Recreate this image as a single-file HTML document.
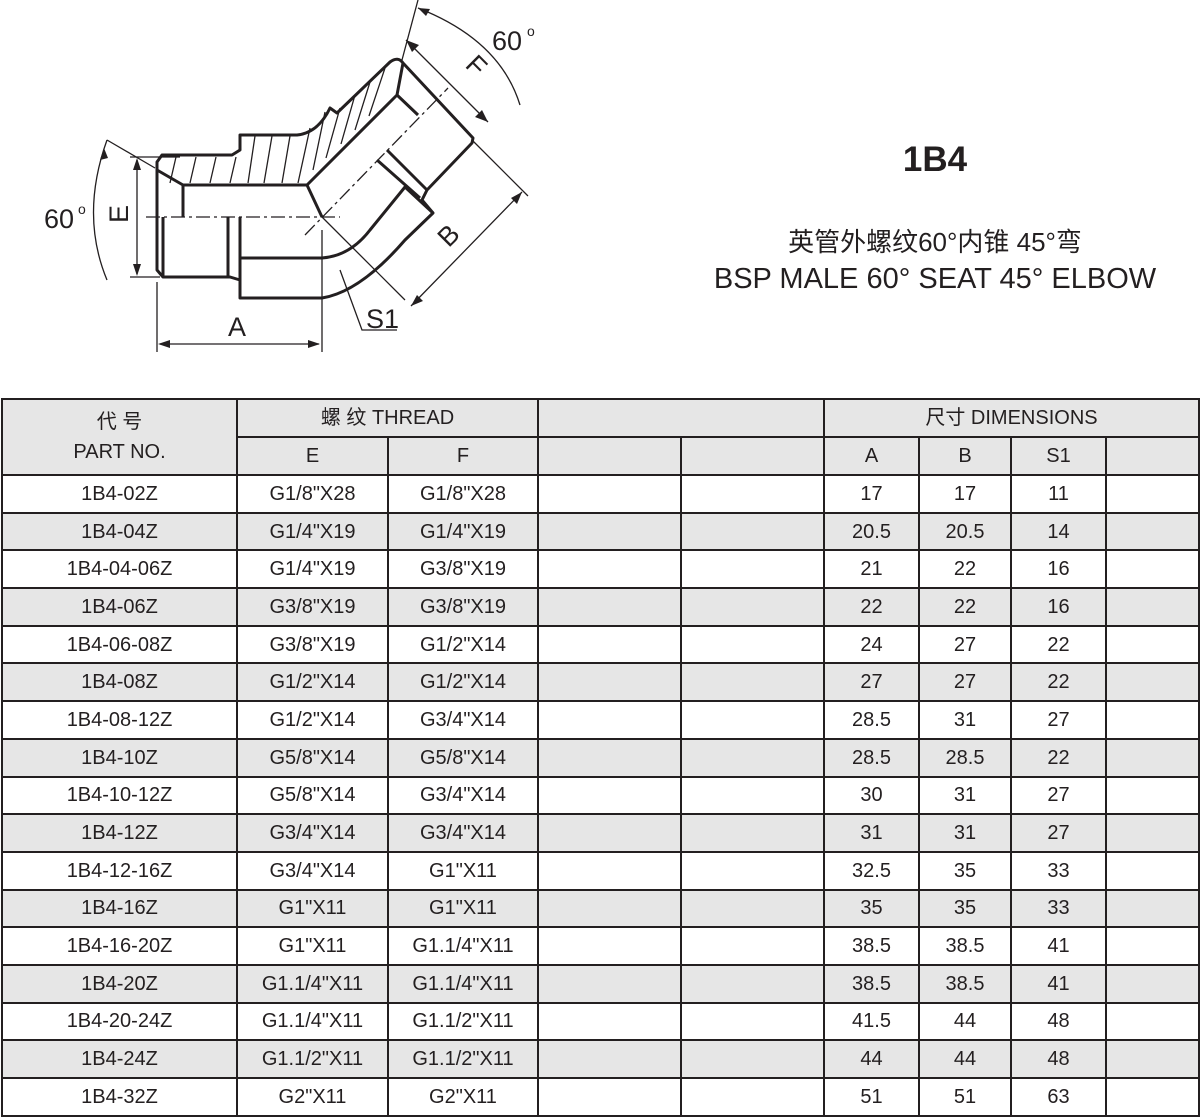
<!DOCTYPE html>
<html><head><meta charset="utf-8"><style>
body{margin:0;background:#fff;width:1200px;height:1117px;position:relative;overflow:hidden;font-family:"Liberation Sans","Noto Sans CJK SC",sans-serif;color:#231f20}
table{position:absolute;left:1px;top:398px;width:1197px;border-collapse:collapse;table-layout:fixed}
td{border:2px solid #231f20;text-align:center;font-size:20px;height:35.7px;padding:0;line-height:20px}
tr.g td{background:#e6e6e6}
.h td{height:36px;background:#e6e6e6}
.t{position:absolute;text-align:center;color:#231f20}
</style></head><body>
<svg width="560" height="370" style="position:absolute;left:0;top:0" viewBox="0 0 560 370">
<g fill="none" stroke="#231f20" stroke-width="3" stroke-linejoin="round">
<path d="M240,135 L297,135 Q318,133 330,108 L337,113 L390,62 Q398,56 403,63 L473,138 L472,143 L427,190 L422,200 L433,213 L405,240 Q360,292 322,298 L240,298 L240,280 L230,277 L163,277 L157,270 L157,162 L162,155 L232,155 L240,150 Z"/>
<path d="M157,170 L183,185 L307,185 L397,95 L403,63"/>
<path d="M307,185 L322,217"/>
<path d="M183,185 L183,217"/>
<path d="M163,217 L163,277 M228,217 L228,277 M240,217 L240,280"/>
<path d="M240,258 L322,258 Q350,256 370,230 L405,187 L433,213"/>
<path d="M377,160 L420,198 M387,150 L427,190 M397,95 L418,115"/>
</g>
<g stroke="#231f20" stroke-width="1.3" fill="none">
<path d="M176,157 L170,183 M196,157 L190,183 M216,157 L210,183 M236,157 L230,183 M255,136 L248,183 M272,136 L264,183 M290,136 L282,183 M310,128 L298,183 M325,112 L313,170 M340,108 L326,158 M355,95 L341,144 M370,82 L355,130 M385,68 L369,116"/>
<path d="M146,217 L340,217" stroke-dasharray="14,4,3,4"/>
<path d="M305,235 L448,88" stroke-dasharray="14,4,3,4"/>
<path d="M130,157 L180,157 M130,277 L160,277 M137,160 L137,274"/>
<path d="M157,282 L157,352 M322,230 L322,352 M160,344 L319,344"/>
<path d="M107,140 Q80,215 107,280 M107,140 L155,168"/>
<path d="M418,0 L402,60 M406,40 L488,122 M472,140 L528,196 M522,192 L411,306 M405,300 L322,217 M340,270 L362,330 L397,330"/>
<path d="M418,8 Q500,40 520,105"/>
</g>
<g fill="#231f20">
<path d="M137,158 L133,170 L141,170Z M137,276 L133,264 L141,264Z M158,344 L170,340 L170,348Z M320,344 L308,340 L308,348Z M406,40 L419,45 L412,52Z M488,122 L475,117 L482,110Z M522,192 L517,204 L511,198Z M411,306 L423,301 L417,295Z M418,8 L430,9 L426,16Z M104,148 L100,160 L108,158Z"/>
</g>
<g font-family="Liberation Sans,sans-serif" font-size="27" fill="#231f20">
<text x="44" y="228">60</text><text x="78" y="214" font-size="14">o</text>
<text x="492" y="50">60</text><text x="527" y="36" font-size="14">o</text>
<text x="228" y="336">A</text>
<text x="366" y="328">S1</text>
<text transform="translate(128,214) rotate(-90)" text-anchor="middle">E</text>
<text transform="translate(470,72) rotate(45)" text-anchor="middle">F</text>
<text transform="translate(455,242) rotate(-45)" text-anchor="middle">B</text>
</g>
</svg>
<div class="t" style="left:850px;top:140px;width:170px;font-size:35px;font-weight:bold">1B4</div>
<div class="t" style="left:700px;top:222px;width:470px;font-size:26px">英管外螺纹60°内锥 45°弯</div>
<div class="t" style="left:690px;top:263px;width:490px;font-size:29px">BSP MALE 60° SEAT 45° ELBOW</div>
<table>
<colgroup><col style="width:235px"><col style="width:151px"><col style="width:150px"><col style="width:143px"><col style="width:143px"><col style="width:95px"><col style="width:92px"><col style="width:95px"><col style="width:93px"></colgroup>
<tr class="h"><td rowspan="2" style="line-height:30px">代 号<br>PART NO.</td><td colspan="2">螺 纹 THREAD</td><td colspan="2"></td><td colspan="4">尺寸 DIMENSIONS</td></tr>
<tr class="h"><td>E</td><td>F</td><td></td><td></td><td>A</td><td>B</td><td>S1</td><td></td></tr>
<tr><td>1B4-02Z</td><td>G1/8"X28</td><td>G1/8"X28</td><td></td><td></td><td>17</td><td>17</td><td>11</td><td></td></tr>
<tr class="g"><td>1B4-04Z</td><td>G1/4"X19</td><td>G1/4"X19</td><td></td><td></td><td>20.5</td><td>20.5</td><td>14</td><td></td></tr>
<tr><td>1B4-04-06Z</td><td>G1/4"X19</td><td>G3/8"X19</td><td></td><td></td><td>21</td><td>22</td><td>16</td><td></td></tr>
<tr class="g"><td>1B4-06Z</td><td>G3/8"X19</td><td>G3/8"X19</td><td></td><td></td><td>22</td><td>22</td><td>16</td><td></td></tr>
<tr><td>1B4-06-08Z</td><td>G3/8"X19</td><td>G1/2"X14</td><td></td><td></td><td>24</td><td>27</td><td>22</td><td></td></tr>
<tr class="g"><td>1B4-08Z</td><td>G1/2"X14</td><td>G1/2"X14</td><td></td><td></td><td>27</td><td>27</td><td>22</td><td></td></tr>
<tr><td>1B4-08-12Z</td><td>G1/2"X14</td><td>G3/4"X14</td><td></td><td></td><td>28.5</td><td>31</td><td>27</td><td></td></tr>
<tr class="g"><td>1B4-10Z</td><td>G5/8"X14</td><td>G5/8"X14</td><td></td><td></td><td>28.5</td><td>28.5</td><td>22</td><td></td></tr>
<tr><td>1B4-10-12Z</td><td>G5/8"X14</td><td>G3/4"X14</td><td></td><td></td><td>30</td><td>31</td><td>27</td><td></td></tr>
<tr class="g"><td>1B4-12Z</td><td>G3/4"X14</td><td>G3/4"X14</td><td></td><td></td><td>31</td><td>31</td><td>27</td><td></td></tr>
<tr><td>1B4-12-16Z</td><td>G3/4"X14</td><td>G1"X11</td><td></td><td></td><td>32.5</td><td>35</td><td>33</td><td></td></tr>
<tr class="g"><td>1B4-16Z</td><td>G1"X11</td><td>G1"X11</td><td></td><td></td><td>35</td><td>35</td><td>33</td><td></td></tr>
<tr><td>1B4-16-20Z</td><td>G1"X11</td><td>G1.1/4"X11</td><td></td><td></td><td>38.5</td><td>38.5</td><td>41</td><td></td></tr>
<tr class="g"><td>1B4-20Z</td><td>G1.1/4"X11</td><td>G1.1/4"X11</td><td></td><td></td><td>38.5</td><td>38.5</td><td>41</td><td></td></tr>
<tr><td>1B4-20-24Z</td><td>G1.1/4"X11</td><td>G1.1/2"X11</td><td></td><td></td><td>41.5</td><td>44</td><td>48</td><td></td></tr>
<tr class="g"><td>1B4-24Z</td><td>G1.1/2"X11</td><td>G1.1/2"X11</td><td></td><td></td><td>44</td><td>44</td><td>48</td><td></td></tr>
<tr><td>1B4-32Z</td><td>G2"X11</td><td>G2"X11</td><td></td><td></td><td>51</td><td>51</td><td>63</td><td></td></tr>
</table>
</body></html>
